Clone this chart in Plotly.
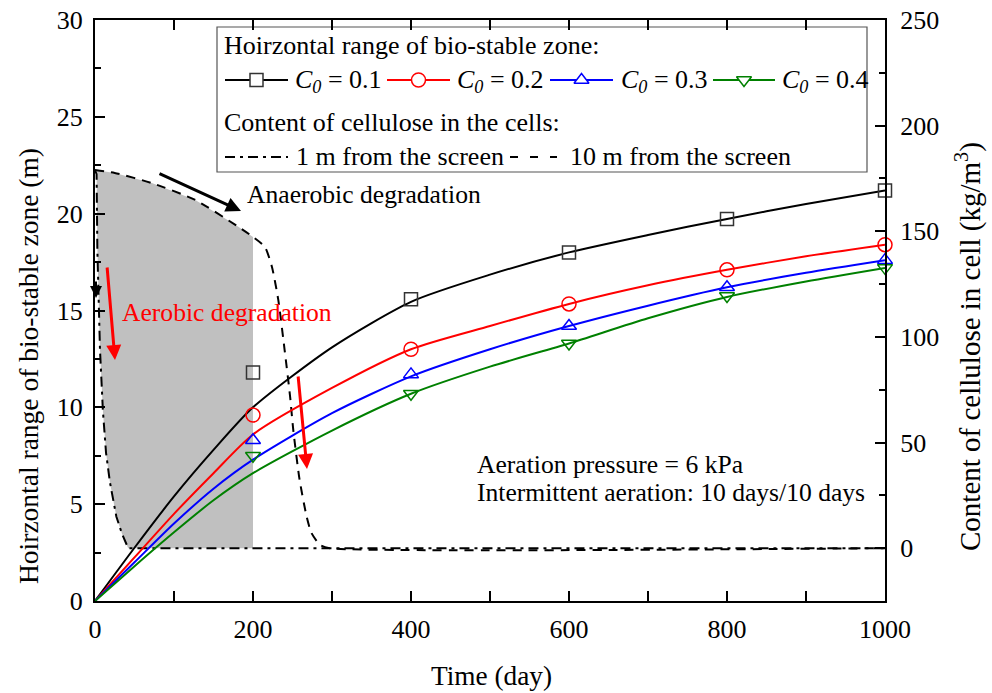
import plotly.graph_objects as go

# ---------------- data ----------------
days = [0, 50, 100, 150, 200, 300, 400, 500, 600, 700, 800, 900, 1000]
range_c01 = [0, 2.75, 5.4, 7.8, 10.0, 13.1, 15.45, 16.85, 18.0, 18.9, 19.73, 20.5, 21.2]
range_c02 = [0, 2.25, 4.5, 6.6, 8.6, 11.0, 13.0, 14.2, 15.34, 16.3, 17.1, 17.8, 18.4]
range_c03 = [0, 2.0, 4.0, 5.8, 7.3, 9.7, 11.6, 13.0, 14.2, 15.25, 16.2, 16.95, 17.6]
range_c04 = [0, 1.8, 3.55, 5.2, 6.6, 8.8, 10.7, 12.1, 13.3, 14.6, 15.7, 16.5, 17.2]

marker_days = [200, 400, 600, 800, 1000]
marker_c01 = [11.8, 15.58, 18.0, 19.73, 21.2]
marker_c02 = [9.6, 13.0, 15.34, 17.1, 18.4]
marker_c03 = [8.3, 11.7, 14.2, 16.2, 17.6]
marker_c04 = [7.5, 10.7, 13.3, 15.75, 17.2]

days_1m = [0, 2, 3, 4.5, 6.3, 10, 14, 19, 27, 34, 42, 1000]
cellulose_1m = [179, 177, 141, 117, 94, 65, 45, 31, 15, 7, 0, 0]
days_10m = [0, 25, 72, 127, 181, 200, 215, 224, 232, 240, 247, 251, 259, 268, 274, 285, 297, 1000]
cellulose_10m = [179, 177.6, 172.8, 164.8, 152.2, 147.3, 142.6, 133.1, 117.5, 93.9, 71.6, 55.9,
                 32.3, 14.8, 7.2, 1.5, 0, 0]
shade_end_day = 200

series_names = ["0.1", "0.2", "0.3", "0.4"]
series_colors = ["#000000", "#ff0000", "#0000ff", "#008000"]
series_symbols = ["square-open", "circle-open", "triangle-up-open", "triangle-down-open"]
series_lines = [range_c01, range_c02, range_c03, range_c04]
series_markers = [marker_c01, marker_c02, marker_c03, marker_c04]

FONT = "Times New Roman, Liberation Serif, serif"
FS = 26
FS_TXT = 25.6

# plot area in pixels
L, R, T, B = 95, 885, 20, 601
W, H = 992, 693


def px(xp):
    return (xp - L) / (R - L)


def py(yp):
    return (B - yp) / (B - T)


fig = go.Figure()

# gray shaded region between the two cellulose curves (main y axis = cellulose, right side)
gx, gy = [], []
for t, v in zip(days_1m, cellulose_1m):
    if t <= 42:
        gx.append(t)
        gy.append(v)
gx.append(shade_end_day)
gy.append(0)
top = [(t, v) for t, v in zip(days_10m, cellulose_10m) if t <= shade_end_day]
for t, v in reversed(top):
    gx.append(t)
    gy.append(v)
fig.add_trace(go.Scatter(x=gx, y=gy, yaxis="y", mode="lines", fill="toself",
                         fillcolor="#c0c0c0", line=dict(width=0, color="#c0c0c0"),
                         hoverinfo="skip"))

# cellulose curves
fig.add_trace(go.Scatter(x=days_1m, y=cellulose_1m, yaxis="y", mode="lines",
                         line=dict(color="black", width=2, dash="10px,5px,3px,5px"),
                         name="1 m from the screen"))
fig.add_trace(go.Scatter(x=days_10m, y=cellulose_10m, yaxis="y", mode="lines",
                         line=dict(color="black", width=2, dash="9px,7px", shape="spline", smoothing=0.6),
                         name="10 m from the screen"))

# bio-stable zone curves (overlay y2 axis, left side)
for nm, col, sym, ln, mk in zip(series_names, series_colors, series_symbols, series_lines, series_markers):
    fig.add_trace(go.Scatter(x=days, y=ln, yaxis="y2", mode="lines",
                             line=dict(color=col, width=2, shape="spline", smoothing=0.7),
                             name="C0 = " + nm))
    fig.add_trace(go.Scatter(x=marker_days, y=mk, yaxis="y2", mode="markers", cliponaxis=False,
                             marker=dict(symbol=sym, size=14 if "circle" in sym else 13,
                                         color=col if col != "#000000" else "#333333",
                                         line=dict(width=1.5)),
                             showlegend=False))

# ---------------- legend (custom) on a hidden overlay axis in pixel units --------
LEG_Y1, LEG_Y2 = 80, 157
leg_x = [(225, 288, 296), (387, 450, 458), (550, 613, 622), (713, 775, 783)]
for (x0, x1, xt), nm, col, sym in zip(leg_x, series_names, series_colors, series_symbols):
    fig.add_trace(go.Scatter(x=[x0, x1], y=[LEG_Y1, LEG_Y1], xaxis="x3", yaxis="y3", mode="lines",
                             line=dict(color=col, width=2), hoverinfo="skip"))
    fig.add_trace(go.Scatter(x=[(x0 + x1) / 2], y=[LEG_Y1], xaxis="x3", yaxis="y3", mode="markers",
                             marker=dict(symbol=sym.replace("-open", ""), size=14 if "circle" in sym else 13,
                                         color="white",
                                         line=dict(width=1.5, color=col if col != "#000000" else "#333333")),
                             hoverinfo="skip"))
fig.add_trace(go.Scatter(x=[225, 288], y=[LEG_Y2, LEG_Y2], xaxis="x3", yaxis="y3", mode="lines",
                         line=dict(color="black", width=2, dash="10px,5px,3px,5px"), hoverinfo="skip"))
fig.add_trace(go.Scatter(x=[510, 557], y=[LEG_Y2, LEG_Y2], xaxis="x3", yaxis="y3", mode="lines",
                         line=dict(color="black", width=2, dash="8px,12px"), hoverinfo="skip"))

annotations = []


def text(xp, yp, s, color="black", size=FS_TXT, xanchor="left", angle=0):
    annotations.append(dict(x=px(xp), y=py(yp), xref="paper", yref="paper", text=s, showarrow=False,
                            xanchor=xanchor, yanchor="middle", textangle=angle,
                            font=dict(family=FONT, size=size, color=color)))


text(222, 45, "Hoirzontal range of bio-stable zone:", size=FS)
for (x0, x1, xt), nm in zip(leg_x, series_names):
    text(xt - 3, LEG_Y1 + 1, "<i>C</i><sub><i>0</i></sub> = " + nm, size=FS)
text(222, 123, "Content of cellulose in the cells:", size=FS)
text(294, LEG_Y2, "1 m from the screen", size=FS)
text(568, LEG_Y2, "10 m from the screen", size=FS)

text(245, 195, "Anaerobic degradation")
text(120, 312, "Aerobic degradation", color="#ff0000")
text(475, 464, "Aeration pressure = 6 kPa")
text(475, 493, "Intermittent aeration: 10 days/10 days")

# axis titles
text(28, 366, "Hoirzontal range of bio-stable zone (m)", size=27.5, xanchor="center", angle=-90)
text(968, 346, "Content of cellulose in cell (kg/m<sup>3</sup>)", size=29, xanchor="center", angle=-90)
text(491, 676, "Time (day)", size=27.3, xanchor="center")


def arrow(x_tail, y_tail, x_head, y_head, color, width=3, size=1.0):
    annotations.append(dict(x=px(x_head), y=py(y_head), xref="paper", yref="paper",
                            ax=x_tail - x_head, ay=y_tail - y_head, axref="pixel", ayref="pixel",
                            showarrow=True, arrowhead=2, arrowsize=size, arrowwidth=width,
                            arrowcolor=color, text=""))


arrow(158, 173, 241, 211, "black")
arrow(107, 266, 115, 360, "#ff0000")
arrow(298, 375, 307, 469, "#ff0000")
arrow(96, 280, 96, 298, "black", width=2, size=1.2)

shapes = [dict(type="rect", xref="paper", yref="paper", x0=px(217), x1=px(867), y0=py(172), y1=py(27),
               line=dict(color="#555555", width=1.2), fillcolor="white", layer="below")]

axis_common = dict(showline=True, linecolor="black", linewidth=2, ticks="inside", ticklen=10,
                   tickwidth=2, tickcolor="black", showgrid=False, zeroline=False, automargin=False,
                   tickfont=dict(family=FONT, size=FS, color="black"))

fig.update_layout(
    width=W, height=H,
    margin=dict(l=L, r=W - R, t=T, b=H - B),
    paper_bgcolor="white", plot_bgcolor="white",
    showlegend=False,
    font=dict(family=FONT, size=FS, color="black"),
    xaxis=dict(range=[0, 1000], dtick=200, tick0=0, mirror="allticks",
               minor=dict(dtick=100, ticks="inside", ticklen=6, tickwidth=2, tickcolor="black"),
               ticklabelstandoff=4, **axis_common),
    yaxis=dict(range=[-25, 250], dtick=50, tick0=0, side="right",
               minor=dict(dtick=25, ticks="inside", ticklen=6, tickwidth=2, tickcolor="black"),
               ticklabelstandoff=8, **axis_common),
    yaxis2=dict(range=[0, 30], dtick=5, tick0=0, overlaying="y", side="left", anchor="x",
                minor=dict(dtick=2.5, ticks="inside", ticklen=6, tickwidth=2, tickcolor="black"),
                ticklabelstandoff=5, **axis_common),
    xaxis3=dict(range=[L, R], overlaying="x", anchor="y3", visible=False, fixedrange=True),
    yaxis3=dict(range=[B, T], overlaying="y", anchor="x3", visible=False, fixedrange=True),
    annotations=annotations,
    shapes=shapes,
)

fig.write_html("out.html")
